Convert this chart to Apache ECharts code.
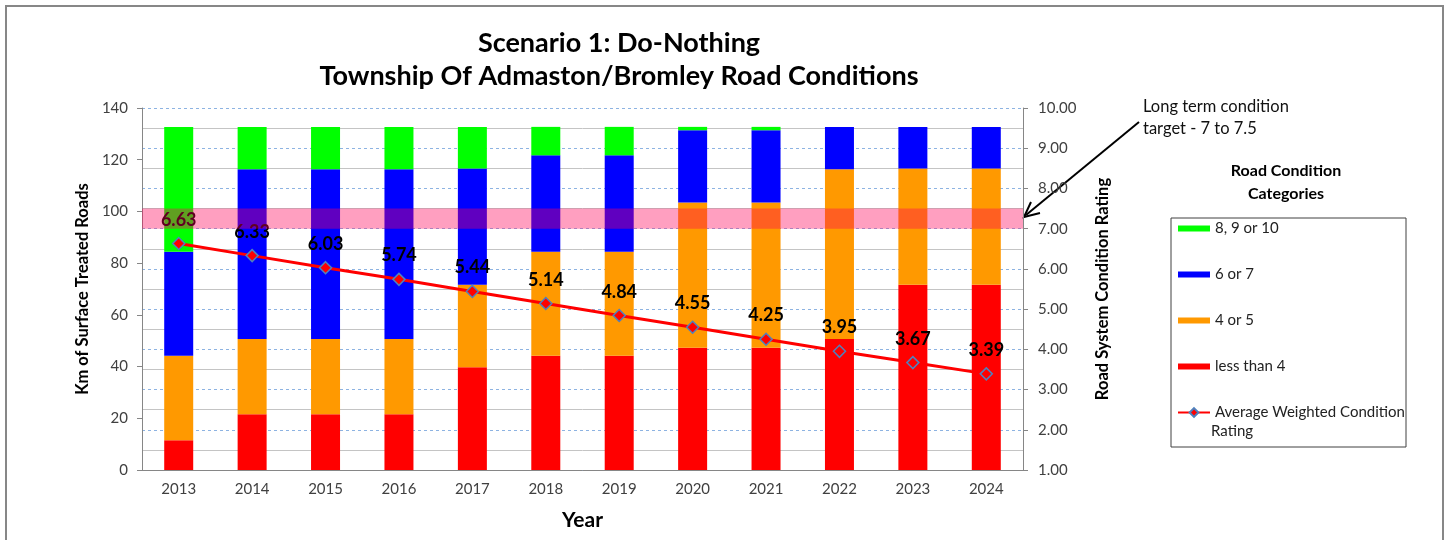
<!DOCTYPE html>
<html>
<head>
<meta charset="utf-8">
<title>Scenario 1: Do-Nothing</title>
<script src="https://cdn.jsdelivr.net/npm/echarts@6/dist/echarts.min.js"></script>
<style>
    html, body { margin: 0; padding: 0; background: #fff; }
    #chart { width: 1449px; height: 540px; }
</style>
</head>
<body>
<div id="chart"></div>
<script>
// Chart data (km per condition category, stacked bottom -> top)
const years = ['2013', '2014', '2015', '2016', '2017', '2018', '2019', '2020', '2021', '2022', '2023', '2024'];
const lessThan4 = [11.5, 21.6, 21.6, 21.6, 39.7, 44.2, 44.2, 47.3, 47.3, 50.7, 71.6, 71.6];
const fourOrFive = [32.7, 29.1, 29.1, 29.1, 31.9, 40.2, 40.2, 56.2, 56.2, 65.6, 45.0, 45.0];
const sixOrSeven = [40.2, 65.6, 65.6, 65.6, 45.0, 37.3, 37.3, 27.9, 27.9, 16.4, 16.1, 16.1];
const eightToTen = [48.3, 16.4, 16.4, 16.4, 16.1, 11.0, 11.0, 1.3, 1.3, 0, 0, 0];
const avgRating = [6.63, 6.33, 6.03, 5.74, 5.44, 5.14, 4.84, 4.55, 4.25, 3.95, 3.67, 3.39];
const targetBand = [7, 7.5];

const FONT = 'Lato, "Open Sans", sans-serif';
const barIcon = 'path://M0,0H32V6H0Z';

function initRoadChart() {
    const chartDom = document.getElementById('chart');
    const chart = echarts.init(chartDom);

    const barSeries = (name, data, color) => ({
        name: name,
        type: 'bar',
        stack: 'km',
        data: data,
        barWidth: 29,
        itemStyle: { color: color },
        z: 2
    });

    const option = {
        animation: false,
        textStyle: { fontFamily: FONT },
        title: {
            text: 'Scenario 1: Do-Nothing\nTownship Of Admaston/Bromley Road Conditions',
            left: 619,
            top: 27,
            padding: 0,
            textAlign: 'center',
            textStyle: { fontFamily: FONT, fontSize: 27, fontWeight: 'bold', color: '#000', lineHeight: 33 }
        },
        grid: { left: 142, right: 426, top: 108, bottom: 70 },
        legend: {
            orient: 'vertical',
            left: 1177,
            top: 221,
            padding: 0,
            itemWidth: 32,
            itemHeight: 11,
            itemGap: 31,
            itemTextGap: 2,
            textStyle: { fontFamily: FONT, fontSize: 15, color: '#222' },
            formatter: name => name === 'Average Weighted Condition Rating' ? 'Average Weighted Condition' : name,
            data: [
                { name: '8, 9 or 10', icon: barIcon },
                { name: '6 or 7', icon: barIcon },
                { name: '4 or 5', icon: barIcon },
                { name: 'less than 4', icon: barIcon },
                { name: 'Average Weighted Condition Rating' }
            ]
        },
        xAxis: {
            type: 'category',
            data: years,
            name: 'Year',
            nameLocation: 'middle',
            nameGap: 40,
            nameTextStyle: { fontFamily: FONT, fontSize: 21, fontWeight: 'bold', color: '#000' },
            axisLine: { lineStyle: { color: '#868686' } },
            axisTick: { alignWithLabel: false, length: 5, lineStyle: { color: '#868686' } },
            axisLabel: { fontSize: 15, color: '#404040', margin: 12 }
        },
        yAxis: [{
            type: 'value',
            min: 0,
            max: 140,
            interval: 20,
            name: 'Km of Surface Treated Roads',
            nameLocation: 'middle',
            nameGap: 50,
            nameTextStyle: { fontFamily: FONT, fontSize: 16.5, fontWeight: 'bold', color: '#000' },
            axisLine: { show: true, lineStyle: { color: '#868686' } },
            axisTick: { show: true, length: 5, lineStyle: { color: '#868686' } },
            axisLabel: { fontSize: 15, color: '#404040', margin: 14 },
            splitLine: { show: false }
        }, {
            type: 'value',
            min: 1,
            max: 10,
            interval: 1,
            position: 'right',
            name: 'Road System Condition Rating',
            nameLocation: 'middle',
            nameGap: 71,
            nameTextStyle: { fontFamily: FONT, fontSize: 16.5, fontWeight: 'bold', color: '#000' },
            axisLine: { show: true, lineStyle: { color: '#868686' } },
            axisTick: { show: true, length: 5, lineStyle: { color: '#868686' } },
            axisLabel: { fontSize: 15, color: '#404040', margin: 15, formatter: v => v.toFixed(2) },
            splitLine: { show: true, lineStyle: { color: '#8DB3E2', type: [3, 3], width: 1 } },
            minorTick: { show: false, splitNumber: 2 },
            minorSplitLine: { show: true, lineStyle: { color: '#C4C4C4', width: 1 } }
        }],
        series: [
            barSeries('less than 4', lessThan4, '#FF0000'),
            barSeries('4 or 5', fourOrFive, '#FF9900'),
            barSeries('6 or 7', sixOrSeven, '#0000FF'),
            barSeries('8, 9 or 10', eightToTen, '#00FF00'),
            {
                name: 'Average Weighted Condition Rating',
                type: 'line',
                yAxisIndex: 1,
                data: avgRating,
                z: 5,
                lineStyle: { color: '#FF0000', width: 3 },
                symbol: 'diamond',
                symbolSize: 12,
                itemStyle: { color: '#FF0000', borderColor: '#4F81BD', borderWidth: 1.5 },
                label: {
                    show: true,
                    position: 'top',
                    distance: 8,
                    fontFamily: FONT,
                    fontSize: 18,
                    fontWeight: 'bold',
                    color: '#000',
                    formatter: p => p.value.toFixed(2)
                }
            },
            {
                // long term condition target band (drawn over the bars)
                name: 'target',
                type: 'line',
                yAxisIndex: 1,
                data: [],
                z: 10,
                markArea: {
                    silent: true,
                    z: 10,
                    itemStyle: { color: 'rgba(255, 0, 88, 0.376)' },
                    data: [[{ yAxis: targetBand[0] }, { yAxis: targetBand[1] }]]
                }
            }
        ],
        graphic: [
            {
                type: 'rect',
                shape: { x: 6, y: 6, width: 1437, height: 600 },
                style: { fill: 'none', stroke: '#878787', lineWidth: 2 },
                silent: true
            },
            {
                type: 'text',
                x: 1143,
                y: 96,
                style: { text: 'Long term condition\ntarget - 7 to 7.5', fontFamily: FONT, fontSize: 16.5, lineHeight: 22, fill: '#111' }
            },
            {
                type: 'line',
                shape: { x1: 1139, y1: 122, x2: 1026, y2: 215 },
                style: { stroke: '#000', lineWidth: 2 }
            },
            {
                type: 'polyline',
                shape: { points: [[1031, 202], [1024, 217], [1040, 213]] },
                style: { stroke: '#000', lineWidth: 2, fill: 'none' }
            },
            {
                type: 'text',
                x: 1286,
                y: 159,
                style: {
                    text: 'Road Condition\nCategories',
                    align: 'center',
                    fontFamily: FONT, fontSize: 16, fontWeight: 'bold', lineHeight: 23, fill: '#000'
                }
            },
            {
                type: 'rect',
                shape: { x: 1171, y: 218, width: 235, height: 229 },
                style: { fill: 'none', stroke: '#404040', lineWidth: 1 },
                silent: true
            },
            {
                type: 'text',
                x: 1211,
                y: 424,
                style: { text: 'Rating', fontFamily: FONT, fontSize: 15, fill: '#222' }
            }
        ]
    };

    chart.setOption(option);
    window.addEventListener('resize', chart.resize);
}

document.addEventListener('DOMContentLoaded', function() {
    if (typeof echarts !== 'undefined') {
        initRoadChart();
    }
});
</script>
</body>
</html>
